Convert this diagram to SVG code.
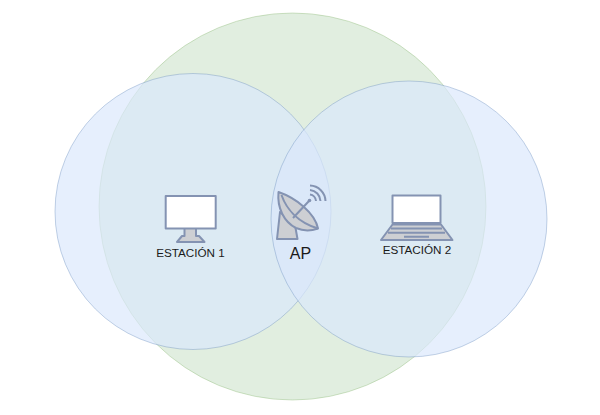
<svg xmlns="http://www.w3.org/2000/svg" width="600" height="415" viewBox="0 0 600 415">
<style>
.green{fill:#d5e8d4;stroke:#82b366;stroke-opacity:.35;fill-opacity:.72}
.blue{fill:#dae8fc;stroke:#6c8ebf;stroke-opacity:.4;fill-opacity:.68}
.ic{stroke:#8493b2;stroke-width:2;stroke-linejoin:round;fill:#cdcfd3}
.sc{fill:#fff}
.ln{fill:none}
text{font-family:"Liberation Sans",Arial,sans-serif;fill:#1a1a1a;text-anchor:middle}
</style>
<rect width="600" height="415" fill="#fff"/>
<g id="range-ap"><circle class="green" cx="292.5" cy="206.5" r="193.500"/></g>
<g id="range-1"><circle class="blue" cx="193" cy="211.500" r="138"/></g>
<g id="range-2"><circle class="blue" cx="409" cy="219" r="138"/></g>
<g id="connectors"/>
<g id="estacion-1">
<path class="ic" d="M184.500 228H196V236H199L204.500 242H177L182 236H184.500Z"/>
<rect class="ic sc" x="165.700" y="196" width="50" height="32.500"/>
<text x="190.500" y="257" font-size="11.700">ESTACIÓN 1</text>
</g>
<g id="ap">
<path class="ic" d="M280 212L277 239H297.500L295 225Z"/>
<path class="ic" d="M278.500 192C277 208 284 222 296 228C303 231 311 231 318 228.500C315 213 296 198 278.500 192Z"/>
<path class="ic ln" stroke-width="1.500" d="M281.500 195C286 208 297 222 318 228.500M293 218L309 201"/>
<circle cx="309.500" cy="200.500" r="1.800" fill="#8493b2"/>
<path class="ic ln" stroke-width="2.500" d="M310 194.500A7 7 0 0 1 316 201M310 190A11.500 11.500 0 0 1 320.500 201M310 185.500A16 16 0 0 1 325.500 201"/>
<text x="300.500" y="258.500" font-size="16">AP</text>
</g>
<g id="estacion-2">
<path class="ic" d="M392.500 224.500H441L452.500 240H381Z"/>
<rect class="ic sc" x="392.500" y="195.500" width="48" height="27.500"/>
<path class="ic ln" stroke-width="1.500" d="M391 228.500H442M388 232.800H445M404 236.800H429"/>
<text x="417" y="254" font-size="11.700">ESTACIÓN 2</text>
</g>
</svg>
